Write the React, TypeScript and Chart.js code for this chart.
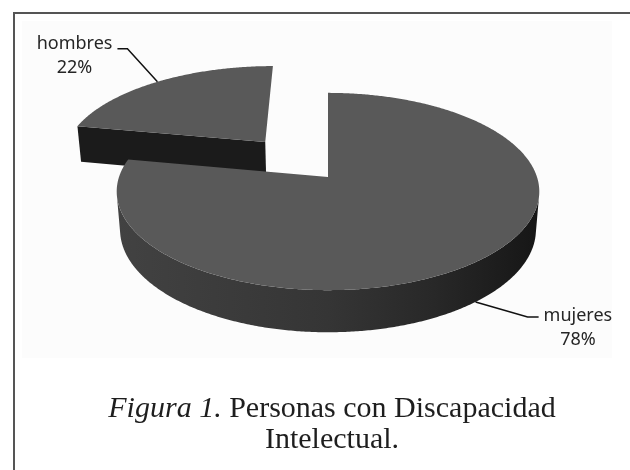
import React, { useEffect, useRef } from 'react';
import { Chart, registerables } from 'chart.js';

Chart.register(...registerables);

// ---- data ----
const categories = ['mujeres', 'hombres'];
const percentages = [78, 22];
const explodeOffsets = [0, 104];

// ---- 3D projection constants ----
const TILT = (27.5 * Math.PI) / 180;
const DIST = 6.03;
const DEPTH = 0.207;

const pie3d = {
  id: 'pie3d',
  beforeDatasetsDraw(chart: any) {
    const ctx = chart.ctx as CanvasRenderingContext2D;
    const arcs = chart.getDatasetMeta(0).data as any[];
    if (!arcs.length) return false;
    const R = arcs[0].outerRadius;
    const X0 = arcs[0].x;
    const Y0 = arcs[0].y;
    const cs = Math.cos(TILT);
    const sn = Math.sin(TILT);
    const F = R * DIST;
    const proj = (u: number, v: number, h: number) => {
      const dep = DIST - v * cs - h * sn;
      return [X0 + (F * u) / dep, Y0 + (F * (v * sn - h * cs)) / dep];
    };
    const cam = [0, DIST * cs, DIST * sn];
    const facing = (pu: number, pv: number, ph: number, nu: number, nv: number) => {
      const du = cam[0] - pu, dv = cam[1] - pv, dh = cam[2] - ph;
      const len = Math.hypot(du, dv, dh);
      return (du * nu + dv * nv) / len;
    };
    const slices = arcs.map((a: any, i: number) => {
      const s = a.startAngle, e = a.endAngle, mid = (s + e) / 2;
      const off = (a.options.offset || 0) / R;
      return { i, s, e, mid, cu: off * Math.cos(mid), cv: off * Math.sin(mid), color: a.options.backgroundColor };
    });
    chart.$pie3d = { proj, slices };
    const order = slices.slice().sort((p: any, q: any) => (p.cv + 0.5 * Math.sin(p.mid)) - (q.cv + 0.5 * Math.sin(q.mid)));
    const STEP = Math.PI / 360;

    ctx.save();
    ctx.lineJoin = 'round';
    for (const sl of order) {
      const { s, e, cu, cv } = sl;
      // radial faces
      const edges = [
        { a: s, n: s - Math.PI / 2 },
        { a: e, n: e + Math.PI / 2 },
      ];
      for (const ed of edges) {
        const tu = cu + Math.cos(ed.a), tv = cv + Math.sin(ed.a);
        const f = facing((cu + tu) / 2, (cv + tv) / 2, -DEPTH / 2, Math.cos(ed.n), Math.sin(ed.n));
        if (f > 0.08) {
          const p1 = proj(cu, cv, 0), p2 = proj(tu, tv, 0), p3 = proj(tu, tv, -DEPTH), p4 = proj(cu, cv, -DEPTH);
          ctx.beginPath();
          ctx.moveTo(p1[0], p1[1]);
          ctx.lineTo(p2[0], p2[1]);
          ctx.lineTo(p3[0], p3[1]);
          ctx.lineTo(p4[0], p4[1]);
          ctx.closePath();
          ctx.fillStyle = '#1b1b1b';
          ctx.fill();
        }
      }
      // outer side: visible runs
      const runs: number[][] = [];
      let cur: number[] | null = null;
      const n = Math.max(2, Math.ceil((e - s) / STEP));
      for (let k = 0; k <= n; k++) {
        const a = s + ((e - s) * k) / n;
        const vis = facing(cu + Math.cos(a), cv + Math.sin(a), -DEPTH / 2, Math.cos(a), Math.sin(a)) > 0;
        if (vis) {
          if (!cur) { cur = [a, a]; runs.push(cur); }
          cur[1] = a;
        } else cur = null;
      }
      for (const run of runs) {
        const [a0, a1] = run;
        if (a1 - a0 < 1e-4) continue;
        const m = Math.max(2, Math.ceil((a1 - a0) / STEP));
        const pts: number[][] = [];
        for (let k = 0; k <= m; k++) {
          const a = a0 + ((a1 - a0) * k) / m;
          pts.push(proj(cu + Math.cos(a), cv + Math.sin(a), 0));
        }
        for (let k = m; k >= 0; k--) {
          const a = a0 + ((a1 - a0) * k) / m;
          pts.push(proj(cu + Math.cos(a), cv + Math.sin(a), -DEPTH));
        }
        let minX = Infinity, maxX = -Infinity;
        pts.forEach((p) => { minX = Math.min(minX, p[0]); maxX = Math.max(maxX, p[0]); });
        const g = ctx.createLinearGradient(minX, 0, maxX, 0);
        g.addColorStop(0, '#424242');
        g.addColorStop(0.5, '#353535');
        g.addColorStop(0.75, '#282828');
        g.addColorStop(1, '#161616');
        ctx.beginPath();
        pts.forEach((p, k) => (k ? ctx.lineTo(p[0], p[1]) : ctx.moveTo(p[0], p[1])));
        ctx.closePath();
        ctx.fillStyle = g;
        ctx.fill();
      }
      // top face
      ctx.beginPath();
      const c = proj(cu, cv, 0);
      ctx.moveTo(c[0], c[1]);
      const mt = Math.max(2, Math.ceil((e - s) / STEP));
      for (let k = 0; k <= mt; k++) {
        const a = s + ((e - s) * k) / mt;
        const p = proj(cu + Math.cos(a), cv + Math.sin(a), 0);
        ctx.lineTo(p[0], p[1]);
      }
      ctx.closePath();
      ctx.fillStyle = sl.color;
      ctx.fill();
    }
    ctx.restore();
    return false;
  },
  afterDraw(chart: any) {
    const st = chart.$pie3d;
    if (!st) return;
    const ctx = chart.ctx as CanvasRenderingContext2D;
    const data = chart.data.datasets[0].data as number[];
    const total = data.reduce((a: number, b: number) => a + b, 0);
    ctx.save();
    ctx.font = '18px "Noto Sans"';
    ctx.fillStyle = '#262626';
    ctx.strokeStyle = '#111111';
    ctx.lineWidth = 1.5;
    for (const sl of st.slices) {
      const ca = Math.cos(sl.mid), sa = Math.sin(sl.mid);
      const back = sa < 0;
      const anchor = st.proj(sl.cu + ca, sl.cv + sa, back ? 0 : -DEPTH);
      const left = ca < 0;
      const elbow = left ? [anchor[0] - 30, anchor[1] - 33] : [anchor[0] + 52, anchor[1] + 15];
      const stub = left ? [elbow[0] - 10, elbow[1]] : [elbow[0] + 11, elbow[1]];
      ctx.beginPath();
      ctx.moveTo(anchor[0], anchor[1]);
      ctx.lineTo(elbow[0], elbow[1]);
      ctx.lineTo(stub[0], stub[1]);
      ctx.stroke();
      const l1 = String(chart.data.labels[sl.i]);
      const l2 = Math.round((data[sl.i] / total) * 100) + '%';
      const w1 = ctx.measureText(l1).width;
      const cx = left ? stub[0] - 5 - w1 / 2 : stub[0] + 5 + w1 / 2;
      const b1 = left ? stub[1] : stub[1] + 4;
      ctx.textAlign = 'center';
      ctx.textBaseline = 'alphabetic';
      ctx.fillText(l1, cx, b1);
      ctx.fillText(l2, cx, b1 + 24);
    }
    ctx.restore();
  },
};

export default function App() {
  const ref = useRef<HTMLCanvasElement | null>(null);
  useEffect(() => {
    if (!ref.current) return;
    const chart = new Chart(ref.current, {
      type: 'pie',
      data: {
        labels: categories,
        datasets: [
          {
            data: percentages,
            backgroundColor: ['#595959', '#595959'],
            offset: explodeOffsets,
            radius: 209,
            borderWidth: 0,
          } as any,
        ],
      },
      options: {
        animation: false,
        responsive: false,
        devicePixelRatio: 1,
        radius: 209,
        layout: { padding: { left: 26, right: 0, top: 0, bottom: 116 } },
        plugins: { legend: { display: false }, tooltip: { enabled: false }, title: { display: false } },
        events: [],
      } as any,
      plugins: [pie3d],
    });
    return () => chart.destroy();
  }, []);
  return (
    <div style={{ position: 'fixed', left: 0, top: 0, width: 630, height: 470, background: '#ffffff', overflow: 'hidden' }}>
      <div style={{ position: 'absolute', left: 13, top: 12, width: 640, height: 480, borderTop: '2px solid #555', borderLeft: '2px solid #555' }} />
      <div style={{ position: 'absolute', left: 22, top: 21, width: 590, height: 337, background: '#fcfcfc' }} />
      <canvas ref={ref} width={630} height={470} style={{ position: 'absolute', left: 0, top: 0, width: 630, height: 470 }} />
      <div
        style={{
          position: 'absolute',
          left: 0,
          top: 391,
          width: 664,
          textAlign: 'center',
          fontFamily: '"Liberation Serif", "DejaVu Serif", serif',
          fontSize: 30,
          lineHeight: '31px',
          color: '#1e1e1e',
        }}
      >
        <i>Figura 1.</i> Personas con Discapacidad
        <br />
        Intelectual.
      </div>
    </div>
  );
}
